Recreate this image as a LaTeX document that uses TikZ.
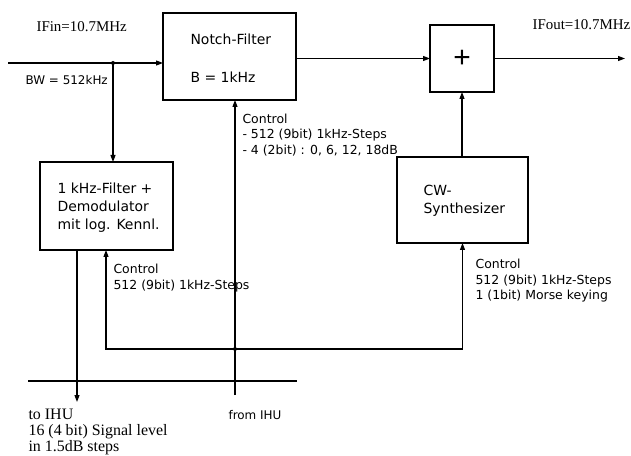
\documentclass[tikz,border=0pt]{standalone}
\usepackage{fontspec}
\setmainfont{DejaVu Sans}
\newfontfamily\seriffont{Liberation Serif}
\newfontfamily\plusfont{Liberation Sans}
\usetikzlibrary{arrows.meta}
\begin{document}
\begin{tikzpicture}[x=1bp,y=-1bp,
  line width=1.1bp,
  blk/.style={draw,line width=1.3bp,inner sep=0pt,outer sep=0pt},
  arr/.style={-{Triangle[length=7bp,width=5bp]}},
  boxtxt/.style={font=\fontsize{14}{18}\selectfont,anchor=west,inner sep=0pt,align=left},
  ctl/.style={font=\fontsize{12.5}{15.5}\selectfont,anchor=west,inner sep=0pt,align=left},
  sertxt/.style={font=\seriffont\fontsize{15}{16}\selectfont,anchor=west,inner sep=0pt,align=left},
  jdot/.style={circle,fill,inner sep=0pt,minimum size=4bp}
]
\useasboundingbox[fill=white] (0,0) rectangle (631,456);

% blocks
\node[blk,minimum width=133bp,minimum height=87bp] (notch) at (229.5,56.5) {};
\node[blk,minimum width=64bp,minimum height=67bp,font=\plusfont\fontsize{30}{30}\selectfont] (plus) at (462,58.5) {+};
\node[blk,minimum width=133bp,minimum height=88bp] (demod) at (106.5,206) {};
\node[blk,minimum width=131bp,minimum height=86bp] (cw) at (462.5,200) {};

% coordinates
\coordinate (inL) at (8,63);
\coordinate (br) at (113,63);
\coordinate (out) at (625,58.5);
\coordinate (fromIHU) at (235,395);
\coordinate (toIHU) at (77,402);
\coordinate (busL) at (106,349);
\coordinate (busR) at (462.5,349);
\coordinate (hl1) at (28,381);
\coordinate (hl2) at (297,381);

% connectors
\draw[arr] (inL) -- (inL -| notch.west);
\draw[arr] (br) -- (br |- demod.north);
\node[jdot] (brdot) at (br) {};
\draw[arr] (notch.east |- plus.west) -- (plus.west);
\draw[arr] (plus.east) -- (out);
\draw[arr] (plus.south |- cw.north) -- (plus.south);
\draw[arr] (fromIHU) -- (fromIHU |- notch.south);
\draw[arr] (toIHU |- demod.south) -- (toIHU);
\draw[arr] (busR) -- (busL) -- (busL |- demod.south);
\draw[arr] (busR) -- (busR |- cw.south);
\node[jdot] (busdot) at (fromIHU |- busL) {};
\draw (hl1) -- (hl2);

% texts
\node[sertxt] (ifin) at (36,27) {IFin=10.7MHz};
\node[ctl,font=\fontsize{12}{14}\selectfont] (bw) at (25,80) {BW = 512kHz};
\node[sertxt] (ifout) at (532,25) {IFout=10.7MHz};
\node[boxtxt] (nt1) at (190,39) {Notch-Filter};
\node[boxtxt] (nt2) at (190,77) {B = 1kHz};
\node[ctl] (nctl) at (242,135) {Control\\- 512 (9bit) 1kHz-Steps\\- 4 (2bit) : 0, 6, 12, 18dB};
\node[boxtxt] (dt) at (57,208) {1 kHz-Filter +\\Demodulator\\mit log. Kennl.};
\node[boxtxt] (ct) at (423,201) {CW-\\Synthesizer};
\node[ctl] (dctl) at (113,278) {Control\\512 (9bit) 1kHz-Steps};
\node[ctl] (cctl) at (475,281) {Control\\512 (9bit) 1kHz-Steps\\1 (1bit) Morse keying};
\node[ctl,font=\fontsize{12}{14}\selectfont] (fromlbl) at (228,415) {from IHU};
\node[sertxt,font=\seriffont\fontsize{16}{16}\selectfont] (tolbl) at (28,432) {to IHU\\16 (4 bit) Signal level\\in 1.5dB steps};
\end{tikzpicture}
\end{document}
